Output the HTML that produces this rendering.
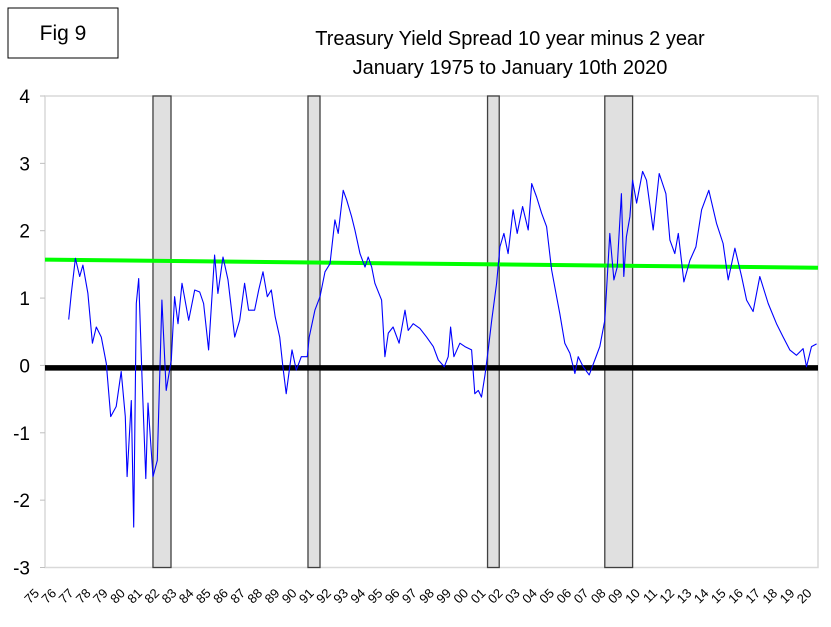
<!DOCTYPE html>
<html><head><meta charset="utf-8"><style>
body{margin:0;background:#fff;width:831px;height:622px;overflow:hidden;font-family:"Liberation Sans",Arial,sans-serif}
svg text{font-family:"Liberation Sans",Arial,sans-serif}
</style></head><body>
<svg id="chart" width="831" height="622" viewBox="0 0 831 622" xmlns="http://www.w3.org/2000/svg">
<rect x="8" y="8" width="110" height="50" fill="#fff" stroke="#000" stroke-width="1"/>
<text x="63" y="40" font-size="21" text-anchor="middle">Fig 9</text>
<text x="510" y="45" font-size="20" text-anchor="middle">Treasury Yield Spread 10 year minus 2 year</text>
<text x="510" y="74" font-size="20" text-anchor="middle">January 1975 to January 10th 2020</text>
<g id="plot"></g>
</svg>
<script>
const yearTicks=["75","76","77","78","79","80","81","82","83","84","85","86","87","88","89","90","91","92","93","94","95","96","97","98","99","00","01","02","03","04","05","06","07","08","09","10","11","12","13","14","15","16","17","18","19","20"];
const yTicks=[4,3,2,1,0,-1,-2,-3];
const recessionStarts=[1981.29,1990.32,2000.78,2007.61];
const recessionEnds=[1982.34,1991.02,2001.46,2009.23];
const trendYears=[1975.0,2020.03];
const trendValues=[1.57,1.45];
const dates=[1976.38,1976.53,1976.77,1977.02,1977.21,1977.5,1977.76,1977.99,1978.28,1978.57,1978.83,1979.15,1979.44,1979.68,1979.78,1980.03,1980.17,1980.32,1980.46,1980.65,1980.87,1981.0,1981.29,1981.54,1981.81,1982.06,1982.36,1982.55,1982.75,1982.98,1983.37,1983.72,1984.01,1984.24,1984.53,1984.88,1985.07,1985.37,1985.66,1986.05,1986.34,1986.63,1986.86,1987.21,1987.45,1987.7,1987.95,1988.18,1988.41,1988.67,1988.86,1989.05,1989.39,1989.64,1989.93,1990.28,1990.39,1990.72,1991.02,1991.31,1991.6,1991.89,1992.08,1992.37,1992.57,1992.86,1993.05,1993.35,1993.64,1993.83,1994.03,1994.22,1994.61,1994.8,1995.0,1995.28,1995.63,1995.97,1996.16,1996.45,1996.84,1997.23,1997.62,1997.91,1998.26,1998.49,1998.63,1998.82,1999.17,1999.46,1999.85,2000.04,2000.24,2000.43,2000.63,2000.82,2001.02,2001.31,2001.5,2001.73,2001.98,2002.27,2002.51,2002.82,2003.15,2003.35,2003.64,2003.93,2004.22,2004.51,2004.8,2004.99,2005.28,2005.58,2005.87,2006.06,2006.35,2006.7,2007.03,2007.32,2007.61,2007.9,2008.14,2008.33,2008.58,2008.72,2008.87,2009.07,2009.23,2009.46,2009.81,2010.04,2010.43,2010.78,2011.17,2011.4,2011.69,2011.89,2012.22,2012.57,2012.92,2013.25,2013.67,2014.12,2014.5,2014.8,2015.19,2015.58,2015.87,2016.25,2016.64,2017.13,2017.61,2018.0,2018.39,2018.78,2019.16,2019.36,2019.65,2019.95];
const spread=[0.68,1.07,1.59,1.32,1.49,1.07,0.33,0.57,0.42,0.03,-0.76,-0.61,-0.09,-0.76,-1.65,-0.52,-2.40,0.92,1.29,-0.17,-1.68,-0.56,-1.65,-1.41,0.97,-0.37,0.08,1.02,0.62,1.22,0.67,1.12,1.09,0.92,0.23,1.64,1.07,1.61,1.27,0.42,0.67,1.22,0.82,0.82,1.12,1.39,1.02,1.12,0.72,0.42,-0.02,-0.42,0.23,-0.07,0.13,0.13,0.42,0.82,1.02,1.39,1.51,2.16,1.96,2.60,2.46,2.21,2.01,1.66,1.46,1.61,1.46,1.22,0.97,0.13,0.48,0.57,0.33,0.82,0.52,0.62,0.55,0.42,0.28,0.08,-0.02,0.13,0.57,0.13,0.33,0.28,0.23,-0.42,-0.37,-0.47,-0.14,0.23,0.67,1.22,1.76,1.96,1.66,2.31,1.96,2.36,2.01,2.70,2.50,2.26,2.06,1.42,1.02,0.77,0.33,0.18,-0.12,0.13,-0.02,-0.14,0.08,0.28,0.67,1.96,1.27,1.46,2.55,1.32,1.91,2.21,2.75,2.41,2.88,2.75,2.01,2.85,2.55,1.86,1.66,1.96,1.24,1.56,1.76,2.31,2.60,2.11,1.81,1.27,1.74,1.32,0.97,0.80,1.32,0.92,0.62,0.42,0.23,0.15,0.25,-0.02,0.28,0.32];

const L=45,R=818,T=96,B=567.5;
const X0=1975.0,X1=2020.03,Y0=-3,Y1=4;
const xs=v=>L+(v-X0)/(X1-X0)*(R-L);
const ys=v=>B-(v-Y0)/(Y1-Y0)*(B-T);
const NS="http://www.w3.org/2000/svg";
const g=document.getElementById('plot');
function mk(tag,attrs){const e=document.createElementNS(NS,tag);for(const k in attrs)e.setAttribute(k,attrs[k]);g.appendChild(e);return e;}

const frame=mk('rect',{x:L,y:T,width:R-L,height:B-T,fill:'#fff',stroke:'#d9d9d9','stroke-width':1.5});



yTicks.forEach(v=>{
  const t=mk('line',{x1:L-5,x2:L,y1:ys(v),y2:ys(v),stroke:'#bfbfbf','stroke-width':1});
  
  
  const lb=mk('text',{x:30,y:ys(v)+7,'font-size':19,'text-anchor':'end'});
  lb.textContent=String(v);
  
  
});

recessionStarts.forEach((s,i)=>{
  const r=mk('rect',{x:xs(s),y:T,width:xs(recessionEnds[i])-xs(s),height:B-T,fill:'#e0e0e0',stroke:'#404040','stroke-width':1.3});
  
  
});

const zero=mk('line',{x1:L,x2:R,y1:ys(0)+2.5,y2:ys(0)+2.5,stroke:'#000','stroke-width':5.5});



const trend=mk('line',{x1:xs(trendYears[0]),x2:xs(trendYears[1]),y1:ys(trendValues[0]),y2:ys(trendValues[1]),stroke:'#00ff00','stroke-width':4});



let d='';
dates.forEach((t,i)=>{d+=(i?'L':'M')+xs(t).toFixed(1)+','+ys(spread[i]).toFixed(1);});
const line=mk('path',{d:d,fill:'none',stroke:'#0000ff','stroke-width':1.1,'stroke-linejoin':'round'});



yearTicks.forEach((lab,i)=>{
  const tx=xs(X0+i);
  const lb=mk('text',{x:tx-5,y:594,'font-size':13,'text-anchor':'end',transform:'rotate(-45 '+(tx-5)+' 594)'});
  lb.textContent=lab;
  
  
});
</script>
</body></html>
